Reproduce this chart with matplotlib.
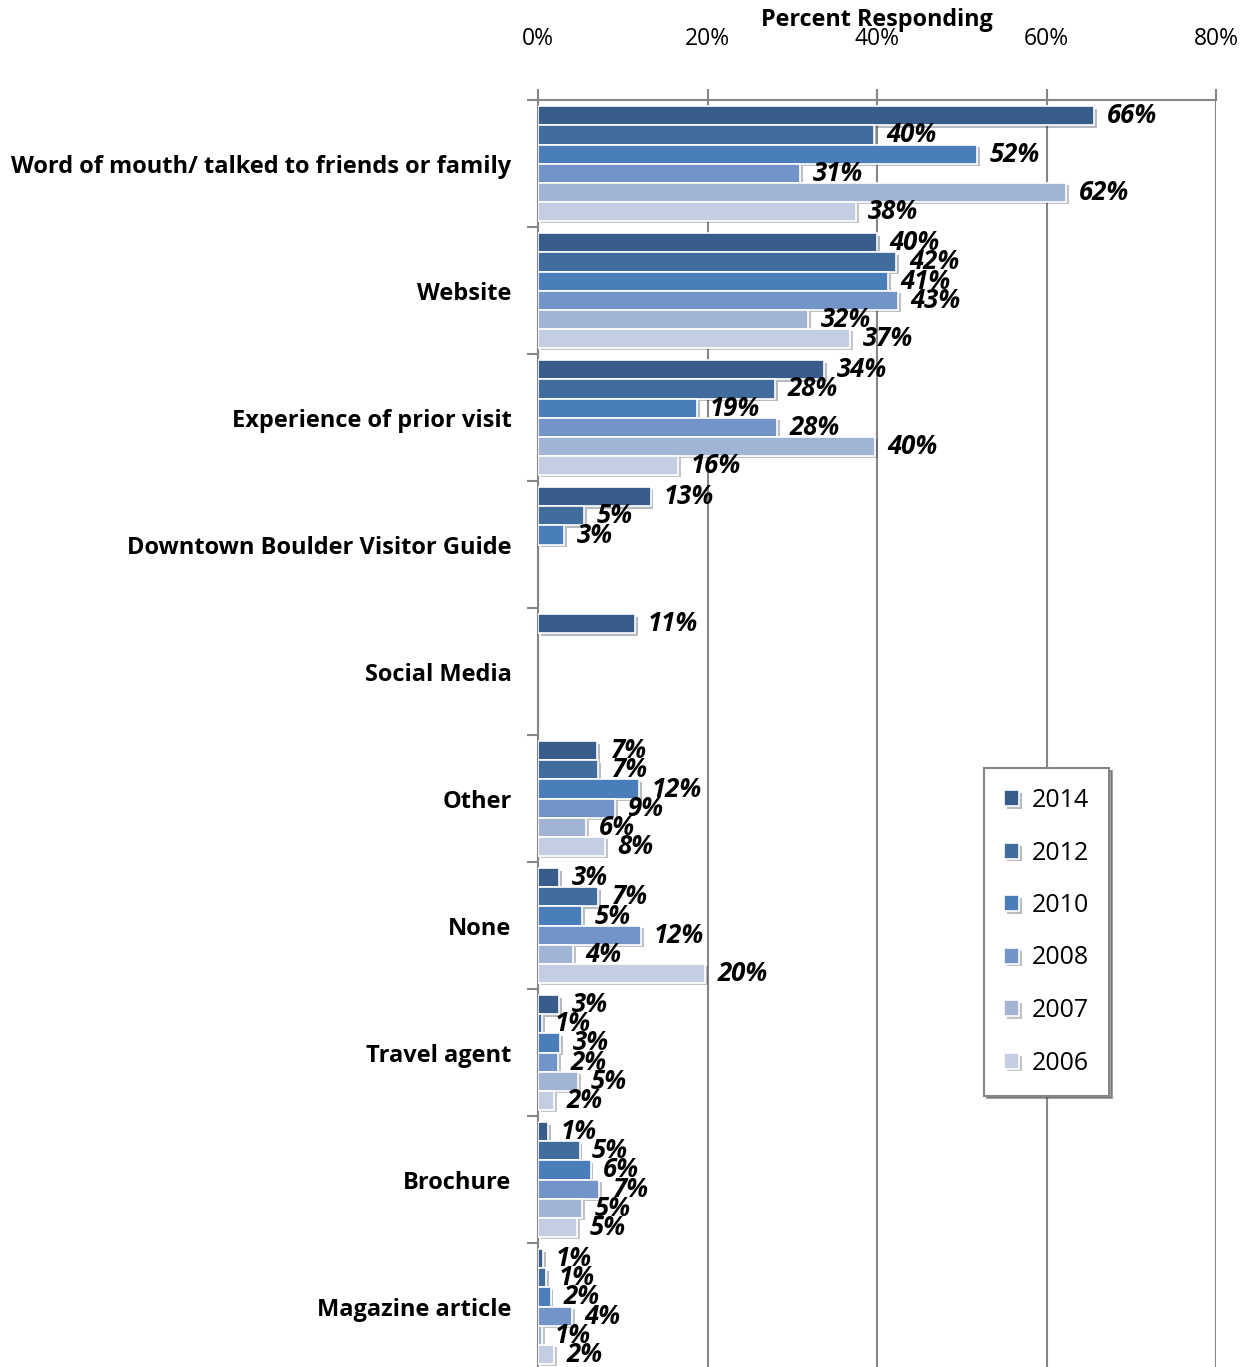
import matplotlib
matplotlib.use('Agg')
import matplotlib.pyplot as plt
import matplotlib.patheffects as pe
import numpy as np

# data (percent)
categories = ['Word of mouth/ talked to friends or family', 'Website', 'Experience of prior visit',
              'Downtown Boulder Visitor Guide', 'Social Media', 'Other', 'None',
              'Travel agent', 'Brochure', 'Magazine article']
years = ['2014', '2012', '2010', '2008', '2007', '2006']
v2014 = [65.6, 40.0, 33.8, 13.3, 11.5, 7.0, 2.5, 2.5, 1.2, 0.6]
v2012 = [39.6, 42.3, 28.0, 5.4, None, 7.1, 7.1, 0.5, 4.9, 1.0]
v2010 = [51.8, 41.3, 18.8, 3.1, None, 11.9, 5.2, 2.6, 6.2, 1.5]
v2008 = [30.9, 42.5, 28.2, None, None, 9.1, 12.2, 2.4, 7.2, 4.0]
v2007 = [62.3, 31.9, 39.8, None, None, 5.7, 4.1, 4.7, 5.2, 0.5]
v2006 = [37.5, 36.8, 16.5, None, None, 7.9, 19.7, 1.9, 4.6, 1.9]
labels2014 = ['66%', '40%', '34%', '13%', '11%', '7%', '3%', '3%', '1%', '1%']
labels2012 = ['40%', '42%', '28%', '5%', '', '7%', '7%', '1%', '5%', '1%']
labels2010 = ['52%', '41%', '19%', '3%', '', '12%', '5%', '3%', '6%', '2%']
labels2008 = ['31%', '43%', '28%', '', '', '9%', '12%', '2%', '7%', '4%']
labels2007 = ['62%', '32%', '40%', '', '', '6%', '4%', '5%', '5%', '1%']
labels2006 = ['38%', '37%', '16%', '', '', '8%', '20%', '2%', '5%', '2%']
colors = ['#385D8A', '#416C9E', '#4A7EBB', '#7394C8', '#A2B4D6', '#C3CEE3']

series = [v2014, v2012, v2010, v2008, v2007, v2006]
series_labels = [labels2014, labels2012, labels2010, labels2008, labels2007, labels2006]
fam = ['Open Sans', 'DejaVu Sans']

fig = plt.figure(figsize=(12.46, 13.67), dpi=100)
ax = fig.add_axes([538 / 1246, -0.0022, (1216 - 538) / 1246, 0.9268 + 0.0022])

n = len(categories)
slot = 0.15
shadow = [pe.SimplePatchShadow(offset=(2, -2), alpha=0.3), pe.Normal()]
for i, (vals, labs, col, yr) in enumerate(zip(series, series_labels, colors, years)):
    y = np.arange(n) + (i - 2.5) * slot
    w = [v if v is not None else 0 for v in vals]
    bars = ax.barh(y, w, height=slot, color=col, edgecolor='white', linewidth=1.2,
                   label=yr, zorder=3)
    for b, v in zip(bars, vals):
        if v is None:
            b.set_visible(False)
        else:
            b.set_path_effects(shadow)
    # data labels (they overlap in the original too)
    for yy, v, lab in zip(y, vals, labs):
        if v is None or lab == '':
            continue
        ax.annotate(lab, (v, yy), xytext=(9, 0), textcoords='offset points',
                    ha='left', va='center', fontsize=18.5, fontweight='bold',
                    fontstyle='italic', family=fam, zorder=5)

ax.set_xlim(0, 80)
ax.set_ylim(n - 0.5, -0.5)
ax.set_xticks([0, 20, 40, 60, 80])
ax.set_xticklabels(['0%', '20%', '40%', '60%', '80%'], fontsize=16.5, family=fam)
ax.xaxis.tick_top()
ax.xaxis.set_label_position('top')
ax.set_xlabel('Percent Responding', fontsize=16.8, fontweight='bold', family=fam, labelpad=1)
ax.tick_params(axis='x', direction='out', length=8, width=1.5, color='#868686', pad=27)
ax.grid(axis='x', color='#868686', linewidth=1.5, zorder=0)

ax.set_yticks(np.arange(n))
ax.set_yticklabels(categories, fontsize=17, fontweight='bold', family=fam)
ax.tick_params(axis='y', length=0, pad=19)
ax.set_yticks(np.arange(n + 1) - 0.5, minor=True)
ax.tick_params(axis='y', which='minor', direction='out', length=8, width=1.5, color='#868686')

for s in ['right', 'bottom']:
    ax.spines[s].set_visible(False)
for s in ['left', 'top']:
    ax.spines[s].set_color('#868686')
    ax.spines[s].set_linewidth(1.5)

leg = fig.legend(loc='upper left', bbox_to_anchor=(984 / 1246, 1 - 768 / 1367),
                 handlelength=0.6, handleheight=0.6, labelspacing=1.1,
                 borderpad=0.8, handletextpad=0.5, borderaxespad=0, fancybox=False, shadow=True,
                 framealpha=1, edgecolor='#868686', prop={'family': fam, 'size': 18})
leg.get_frame().set_linewidth(1.5)

fig.savefig('out.png', dpi=100)
